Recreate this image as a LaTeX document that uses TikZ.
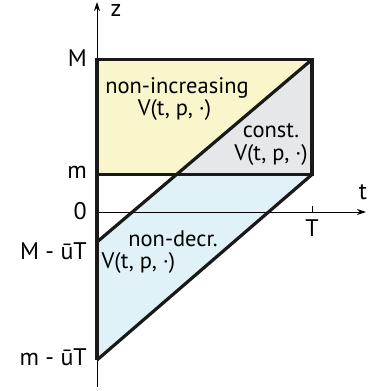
\documentclass[tikz,border=0pt]{standalone}
\usepackage{fontspec}
\setmainfont{PT Sans}
\usetikzlibrary{arrows.meta}
\definecolor{yel}{HTML}{FAF6CC}
\definecolor{gry}{HTML}{E6E7E9}
\definecolor{blu}{HTML}{E0F2F7}
\tikzset{
  thickline/.style={line width=3.2pt, line join=miter, color=black!90},
  axisline/.style={line width=1pt, -{Stealth[length=9pt,width=6pt]}},
  lab/.style={font=\fontsize{24}{26}\selectfont, inner sep=0pt},
  inlab/.style={font=\fontsize{22.5}{24}\selectfont, inner sep=0pt, anchor=base}
}
\begin{document}
\begin{tikzpicture}[x=1pt,y=-1pt]
\useasboundingbox (0,0) rectangle (368,391);
% key points
\coordinate (TL) at (97,59.5);
\coordinate (TR) at (312,59.5);
\coordinate (mL) at (97,174.5);
\coordinate (mR) at (312,174.5);
\coordinate (mX) at (176.5,174.5);
\coordinate (MuT) at (97,242);
\coordinate (muT) at (97,360);
% fills
\fill[yel] (TL) -- (TR) -- (mX) -- (mL) -- cycle;
\fill[gry] (TR) -- (mR) -- (mX) -- cycle;
\fill[blu] (MuT) -- (mX) -- (mR) -- (muT) -- cycle;
% axes
\coordinate (zbot) at (97,387);
\coordinate (ztop) at (97,2);
\coordinate (tleft) at (97,212);
\coordinate (tright) at (366,212);
\draw[axisline] (zbot) -- (ztop);
\draw[axisline] (tleft) -- (tright);
\coordinate (tk1) at (312,206);
\coordinate (tk2) at (312,212);
\draw[line width=1pt] (tk1) -- (tk2);
% thick lines
\draw[thickline] (muT) -- (TL) -- (TR) -- (mR) -- (mL);
\draw[thickline] (MuT) -- (TR);
\draw[thickline] (muT) -- (mR);
% labels
\node[lab, anchor=east] (lM) at (87,58) {M};
\node[lab, anchor=east] (lm) at (87,172) {m};
\node[lab, anchor=east] (l0) at (87,211) {0};
\node[lab, anchor=east] (lMu) at (87,251) {M - ūT};
\node[lab, anchor=east] (lmu) at (87,357) {m - ūT};
\node[lab] (lz) at (116,10) {z};
\node[lab] (lt) at (363,192) {t};
\node[lab] (lT) at (312,228) {T};
% region labels
\node[inlab, align=center, font=\fontsize{22.5}{20}\selectfont, anchor=base] (r1) at (177,115) {non-increasing\\[0pt]\hspace*{-5pt}V(t, p, ·)};
\node[inlab] (r2a) at (271,137) {const.};
\node[inlab] (r2b) at (271,160) {V(t, p, ·)};
\node[inlab] (r3a) at (173,246) {non-decr.};
\node[inlab, anchor=base west] (r3b) at (101.5,268) {V(t, p, ·)};
\end{tikzpicture}
\end{document}
